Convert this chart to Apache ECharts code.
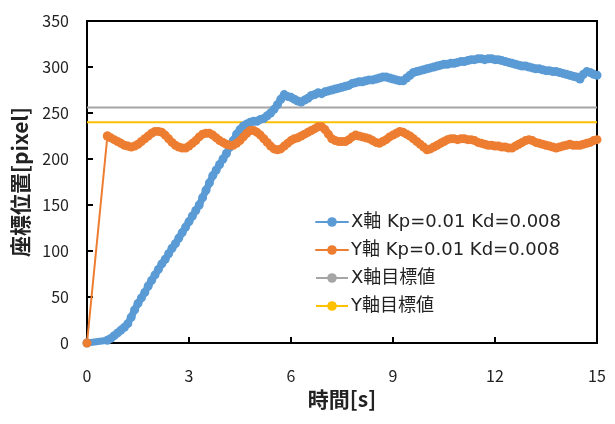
<!DOCTYPE html>
<html>
<head>
<meta charset="utf-8">
<script src="https://cdn.jsdelivr.net/npm/echarts@6/dist/echarts.min.js"></script>
<style>
  html, body { margin: 0; padding: 0; background: #fff; }
  #chart { width: 615px; height: 424px; }
</style>
</head>
<body>
<div id="chart"></div>
<script>
// sampling: first point at t=0, then every 0.1 s from 0.6 s to 15.0 s
const startTime = 0.6
const stepTime = 0.1

const xAxisTicks = [0, 3, 6, 9, 12, 15]
const yAxisTicks = [0, 50, 100, 150, 200, 250, 300, 350]

const seriesNames = ['X軸 Kp=0.01 Kd=0.008', 'Y軸 Kp=0.01 Kd=0.008', 'X軸目標値', 'Y軸目標値']

const xPos = [
  3, 5, 8, 11,
  14, 17, 21, 28, 36, 43, 49, 55, 62, 68,
  74, 80, 86, 91, 97, 103, 108, 114, 120, 126,
  132, 138, 144, 150, 158, 166, 174, 182, 188, 194,
  200, 206, 213, 220, 227, 232, 236, 238, 240, 241,
  241, 243, 244, 247, 250, 254, 259, 265, 270, 268,
  267, 265, 263, 262, 264, 266, 269, 270, 272, 271,
  273, 274, 275, 276, 277, 278, 279, 280, 282, 283,
  284, 284, 285, 286, 286, 287, 288, 289, 289, 288,
  287, 286, 285, 285, 288, 291, 294, 295, 296, 297,
  298, 299, 300, 301, 302, 303, 303, 304, 304, 305,
  306, 306, 307, 308, 308, 309, 309, 308, 309, 309,
  308, 308, 307, 306, 305, 304, 303, 302, 301, 301,
  300, 299, 298, 298, 297, 296, 296, 295, 295, 294,
  293, 292, 291, 290, 289, 287, 292, 295, 294, 292,
  291
]

const yPos = [
  225, 223, 221, 219,
  217, 215, 214, 213, 214, 216, 219, 222, 225, 228,
  230, 230, 229, 226, 222, 218, 215, 213, 212, 212,
  214, 217, 220, 224, 227, 228, 228, 226, 223, 220,
  218, 216, 215, 215, 217, 220, 224, 228, 231, 231,
  229, 226, 222, 218, 214, 211, 210, 211, 214, 217,
  220, 222, 223, 225, 227, 229, 231, 233, 235, 235,
  232, 227, 222, 220, 219, 219, 219, 221, 224, 226,
  225, 224, 223, 222, 220, 218, 217, 219, 221, 224,
  226, 228, 230, 229, 227, 225, 222, 219, 216, 213,
  210, 211, 213, 215, 217, 219, 221, 222, 222, 221,
  222, 222, 221, 221, 220, 218, 217, 216, 215, 215,
  214, 214, 213, 213, 212, 212, 214, 216, 218, 220,
  221, 220, 218, 217, 216, 215, 214, 213, 212, 213,
  214, 215, 216, 215, 215, 215, 216, 217, 218, 220,
  221
]

const xTarget = 256
const yTarget = 240

function toPairs(values) {
  const out = []
  values.forEach(function(v, i) {
    out.push([+(startTime + i * stepTime).toFixed(1), v])
  })
  return out
}

const font = '"Noto Sans CJK JP", "Noto Sans", sans-serif'
const legendFont = '"DejaVu Sans", "Noto Sans CJK JP", sans-serif'

const myChart = echarts.init(document.getElementById('chart'))
const option = {
  animation: false,
  textStyle: { fontFamily: font },
  grid: {
    left: 87,
    right: 18,
    top: 21,
    bottom: 81,
    show: true,
    borderColor: '#000',
    borderWidth: 2,
    backgroundColor: 'transparent'
  },
  legend: {
    orient: 'vertical',
    left: 310,
    top: 207,
    itemWidth: 32,
    itemHeight: 12,
    itemGap: 8,
    lineStyle: { width: 2 },
    textStyle: { fontSize: 18, lineHeight: 20, color: '#222', fontFamily: legendFont, padding: [0, 0, 0, -2] },
    data: seriesNames
  },
  xAxis: {
    type: 'value',
    min: xAxisTicks[0],
    max: xAxisTicks[xAxisTicks.length - 1],
    interval: 3,
    name: '時間[s]',
    nameLocation: 'middle',
    nameGap: 46,
    nameTextStyle: { fontSize: 21, fontWeight: 'bold', color: '#222', fontFamily: font },
    axisLine: { lineStyle: { color: '#000', width: 2 } },
    axisTick: { inside: true, length: 6, lineStyle: { color: '#000', width: 2 } },
    axisLabel: { fontSize: 16, color: '#222', margin: 25, fontFamily: font },
    splitLine: { show: false }
  },
  yAxis: {
    type: 'value',
    min: yAxisTicks[0],
    max: yAxisTicks[yAxisTicks.length - 1],
    interval: 50,
    name: '座標位置[pixel]',
    nameLocation: 'middle',
    nameGap: 56,
    nameTextStyle: { fontSize: 21, fontWeight: 'bold', color: '#222', fontFamily: font },
    axisLine: { lineStyle: { color: '#000', width: 2 } },
    axisTick: { inside: true, length: 6, lineStyle: { color: '#000', width: 2 } },
    axisLabel: { fontSize: 16, color: '#222', margin: 18, fontFamily: font },
    splitLine: { show: false }
  },
  series: [
    {
      name: seriesNames[0],
      type: 'line',
      data: [[0, 0]].concat(toPairs(xPos)),
      symbol: 'circle',
      symbolSize: 9,
      itemStyle: { color: '#5B9BD5' },
      lineStyle: { color: '#5B9BD5', width: 7, cap: 'round', join: 'round' }
    },
    {
      // thin jump from the origin to the first sample
      name: 'Y start',
      type: 'line',
      data: [[0, 0], [startTime, yPos[0]]],
      symbol: 'circle',
      symbolSize: 9,
      itemStyle: { color: '#ED7D31' },
      lineStyle: { color: '#ED7D31', width: 2 }
    },
    {
      name: seriesNames[1],
      type: 'line',
      data: toPairs(yPos),
      symbol: 'circle',
      symbolSize: 9,
      itemStyle: { color: '#ED7D31' },
      lineStyle: { color: '#ED7D31', width: 7, cap: 'round', join: 'round' }
    },
    {
      name: seriesNames[2],
      type: 'line',
      data: [[0, xTarget], [15, xTarget]],
      symbol: 'none',
      itemStyle: { color: '#A5A5A5' },
      lineStyle: { color: '#A5A5A5', width: 2 }
    },
    {
      name: seriesNames[3],
      type: 'line',
      data: [[0, yTarget], [15, yTarget]],
      symbol: 'none',
      itemStyle: { color: '#FFC000' },
      lineStyle: { color: '#FFC000', width: 2 }
    }
  ]
}
myChart.setOption(option)
</script>
</body>
</html>
